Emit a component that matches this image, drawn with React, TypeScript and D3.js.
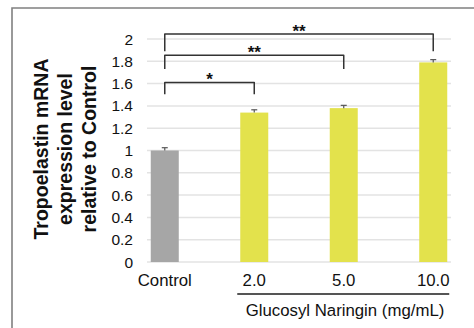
import React from 'react'
import * as d3 from 'd3'

// data
const categories = ['Control', '2.0', '5.0', '10.0']
const values = [1.0, 1.34, 1.38, 1.79]
const errors = [0.025, 0.025, 0.025, 0.025]
const yTicks = [0, 0.2, 0.4, 0.6, 0.8, 1, 1.2, 1.4, 1.6, 1.8, 2]
const bracketTo = ['2.0', '5.0', '10.0']
const bracketTop = [1.61, 1.855, 2.045]
const bracketLeg = [1.505, 1.73, 1.89]
const bracketMark = ['*', '**', '**']
const titleLines = ['Tropoelastin mRNA', 'expression level', 'relative to Control']
const groupLabel = 'Glucosyl Naringin (mg/mL)'

const W = 474
const H = 328
const font = 'Liberation Sans, Arial, Helvetica, sans-serif'

export default function App() {
  const x = d3.scaleBand<string>().domain(categories).range([147, 451]).paddingInner(0.687).paddingOuter(0.042)
  const y = d3.scaleLinear().domain([0, 2]).range([262, 39])
  const bw = x.bandwidth()
  const cx = (c: string) => (x(c) as number) + bw / 2

  return (
    <svg width={W} height={H} style={{ position: 'absolute', left: 0, top: 0, background: '#fff' }}>
      {/* frame */}
      <path d={`M12,${H + 2} L12,8 L${W + 2},8`} fill="none" stroke="#808080" strokeWidth={1.6} />

      {/* gridlines */}
      {yTicks.map((t) => (
        <line key={t} x1={147} x2={451} y1={y(t)} y2={y(t)} stroke="#e3e3e3" strokeWidth={1.5} />
      ))}
      {yTicks.map((t) => (
        <text key={'l' + t} x={133} y={y(t)} dy="0.36em" textAnchor="end" fontFamily={font} fontSize={15.5} fill="#111">
          {String(t)}
        </text>
      ))}

      {/* bars */}
      {categories.map((c, i) => (
        <g key={c}>
          <rect x={x(c)} y={y(values[i])} width={bw} height={y(0) - y(values[i])} fill={i === 0 ? '#a6a6a6' : '#e3e24c'} />
          <line x1={cx(c)} x2={cx(c)} y1={y(values[i])} y2={y(values[i] + errors[i])} stroke="#555" strokeWidth={1.2} />
          <line x1={cx(c) - 3} x2={cx(c) + 3} y1={y(values[i] + errors[i])} y2={y(values[i] + errors[i])} stroke="#555" strokeWidth={1.2} />
          <text x={cx(c)} y={286} textAnchor="middle" fontFamily={font} fontSize={16.8} fill="#111">
            {c}
          </text>
        </g>
      ))}

      {/* significance brackets */}
      {bracketTo.map((c, i) => {
        const x0 = cx(categories[0])
        const x1 = cx(c)
        return (
          <g key={'b' + c}>
            <path
              d={`M${x0},${y(bracketLeg[i])} L${x0},${y(bracketTop[i])} L${x1},${y(bracketTop[i])} L${x1},${y(bracketLeg[i])}`}
              fill="none"
              stroke="#333"
              strokeWidth={1.5}
              strokeLinejoin="round"
            />
            <text x={(x0 + x1) / 2} y={y(bracketTop[i]) + 3} textAnchor="middle" fontFamily={font} fontWeight="bold" fontSize={17} fill="#111">
              {bracketMark[i]}
            </text>
          </g>
        )
      })}

      {/* group underline and label */}
      <line x1={(x('2.0') as number) - 3} x2={(x('10.0') as number) + bw + 2} y1={294} y2={294} stroke="#555" strokeWidth={2} />
      <text x={345} y={316} textAnchor="middle" fontFamily={font} fontSize={16.8} fill="#111">
        {groupLabel}
      </text>

      {/* y title */}
      {titleLines.map((l, i) => (
        <text
          key={l}
          transform={`translate(${48 + i * 24},149) rotate(-90)`}
          textAnchor="middle"
          fontFamily={font}
          fontWeight="bold"
          fontSize={19.5}
          fill="#111"
        >
          {l}
        </text>
      ))}
    </svg>
  )
}
